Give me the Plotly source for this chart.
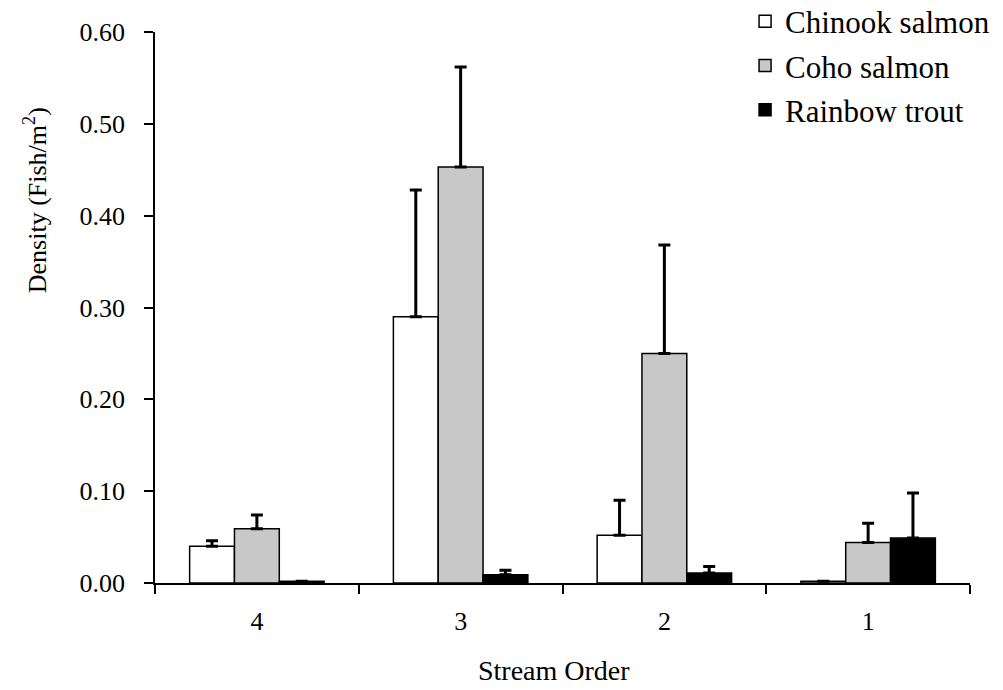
import plotly.graph_objects as go

stream_order = ["4", "3", "2", "1"]
chinook = [0.040, 0.290, 0.052, 0.002]
chinook_err = [0.006, 0.138, 0.038, 0.0]
coho = [0.059, 0.453, 0.250, 0.044]
coho_err = [0.015, 0.109, 0.118, 0.021]
trout = [0.002, 0.009, 0.011, 0.049]
trout_err = [0.0, 0.005, 0.007, 0.049]

series = [
    ("Chinook salmon", chinook, chinook_err, "white"),
    ("Coho salmon", coho, coho_err, "#c8c8c8"),
    ("Rainbow trout", trout, trout_err, "black"),
]

FF = "Liberation Serif"

fig = go.Figure()
for name, vals, errs, col in series:
    fig.add_trace(go.Bar(
        x=stream_order, y=vals, name=name, legendgroup=name,
        marker=dict(color=col, line=dict(color="black", width=1.5)),
        error_y=dict(type="data", array=errs, symmetric=False, arrayminus=[0]*len(errs),
                     color="black", thickness=3, width=6),
    ))

fig.update_layout(
    width=1003, height=690,
    barmode="group", bargap=0.34, bargroupgap=0,
    plot_bgcolor="white", paper_bgcolor="white",
    margin=dict(l=155, r=33, t=32, b=107, autoexpand=False),
    font=dict(family=FF, size=26, color="black"),
    legend=dict(x=0.724, y=1.068, xanchor="left", yanchor="top",
                font=dict(family=FF, size=31, color="black"), bgcolor="rgba(0,0,0,0)",
                itemwidth=30, tracegroupgap=1),
    showlegend=True,
    annotations=[
        dict(text="Density (Fish/m<sup>2</sup>)", xref="paper", yref="paper",
             x=-0.147, y=0.695, xanchor="center", yanchor="middle", textangle=-90,
             showarrow=False, font=dict(family=FF, size=26, color="black")),
        dict(text="Stream Order", xref="paper", yref="paper",
             x=0.49, y=-0.158, xanchor="center", yanchor="middle",
             showarrow=False, font=dict(family=FF, size=28, color="black")),
    ],
)
fig.update_xaxes(
    type="category", categoryorder="array", categoryarray=stream_order,
    showline=True, linecolor="black", linewidth=1.5,
    ticks="outside", tickson="boundaries", ticklen=9, tickcolor="black", tickwidth=1.5,
    tickfont=dict(family=FF, size=26, color="black"), ticklabelstandoff=14,
    showgrid=False,
)
fig.update_yaxes(
    range=[0, 0.6], dtick=0.1, tickformat=".2f",
    showline=True, linecolor="black", linewidth=1.5,
    ticks="outside", ticklen=9, tickcolor="black", tickwidth=1.5,
    tickfont=dict(family=FF, size=26, color="black"), ticklabelstandoff=14,
    showgrid=False, zeroline=False,
)

fig.write_html("out.html", config={"displayModeBar": False},
               post_script="document.body.style.margin='0';")
